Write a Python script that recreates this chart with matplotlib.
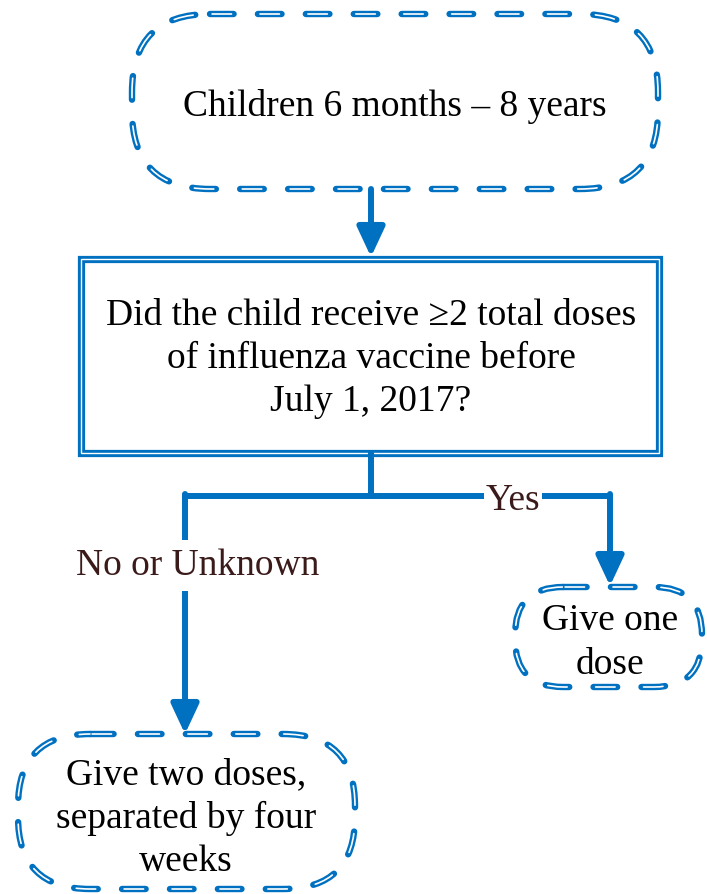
import matplotlib.pyplot as plt
from matplotlib.patches import FancyBboxPatch, Rectangle

# Flowchart content
start_label = "Children 6 months \u2013 8 years"
question_label = "Did the child receive \u22652 total doses\nof influenza vaccine before\nJuly 1, 2017?"
yes_label = "Yes"
no_label = "No or Unknown"
yes_outcome = "Give one\ndose"
no_outcome = "Give two doses,\nseparated by four\nweeks"

blue = '#0070C0'
label_color = '#3B1A1A'
font = 'Liberation Serif'
fs = 27

fig = plt.figure(figsize=(7.07, 8.95), dpi=100)
ax = fig.add_axes([0, 0, 1, 1])
ax.set_xlim(0, 707)
ax.set_ylim(895, 0)
ax.axis('off')

LW = 4.6      # outline width in points
DASH = 17.0   # dash length in points (before round caps)
PERIOD = 34.5


def dashed_box(x0, y0, x1, y1, r):
    # sketchy dashed outline: blue dashes with a thin white core
    style = f"round,pad=0,rounding_size={r}"
    p = FancyBboxPatch((x0, y0), x1 - x0, y1 - y0, boxstyle=style,
                       fill=False, edgecolor=blue, linewidth=LW,
                       linestyle=(0, (DASH / LW, (PERIOD - DASH) / LW)),
                       capstyle='round', joinstyle='round')
    ax.add_patch(p)
    wl = 1.2
    wd = DASH - 3
    q = FancyBboxPatch((x0, y0), x1 - x0, y1 - y0, boxstyle=style,
                       fill=False, edgecolor='white', linewidth=wl,
                       linestyle=(-1.5 / wl, (wd / wl, (PERIOD - wd) / wl)),
                       capstyle='round', joinstyle='round')
    ax.add_patch(q)


def arrow(x0, y0, x1, y1):
    ax.annotate('', xy=(x1, y1), xytext=(x0, y0),
                arrowprops=dict(arrowstyle='-|>,head_length=0.9,head_width=0.42',
                                color=blue, lw=4.3, shrinkA=0, shrinkB=0,
                                mutation_scale=20))


# top node
dashed_box(132, 15, 658, 190, 78)
ax.text(395, 106, start_label, ha='center', va='center',
        fontsize=fs, family=font, color='black')

arrow(371, 190, 371, 258)

# question box (double line)
ax.add_patch(Rectangle((81, 260), 578, 194, fill=False, edgecolor=blue, lw=5.2))
ax.add_patch(Rectangle((81, 260), 578, 194, fill=False, edgecolor='white', lw=1.0))
ax.text(371, 359, question_label, ha='center', va='center', fontsize=fs,
        family=font, color='black', linespacing=1.33)

# branches
ax.plot([371, 371], [454, 497], color=blue, lw=4.3, solid_capstyle='round')
ax.plot([185, 610], [497, 497], color=blue, lw=4.3, solid_joinstyle='round',
        solid_capstyle='round')
arrow(610, 495, 610, 587)
arrow(185, 495, 185, 735)
ax.text(513, 501, yes_label, ha='center', va='center', fontsize=fs,
        family=font, color=label_color,
        bbox=dict(facecolor='white', edgecolor='none', pad=1))
ax.text(198, 566, no_label, ha='center', va='center', fontsize=fs,
        family=font, color=label_color,
        bbox=dict(facecolor='white', edgecolor='none', pad=6))

# outcomes
dashed_box(515, 588, 702, 688, 48)
ax.text(610, 643, yes_outcome, ha='center', va='center', fontsize=fs,
        family=font, color='black', linespacing=1.35)

dashed_box(18, 735, 355, 890, 72)
ax.text(186, 818, no_outcome, ha='center', va='center', fontsize=fs,
        family=font, color='black', linespacing=1.32)

fig.savefig('out.png', dpi=100)
